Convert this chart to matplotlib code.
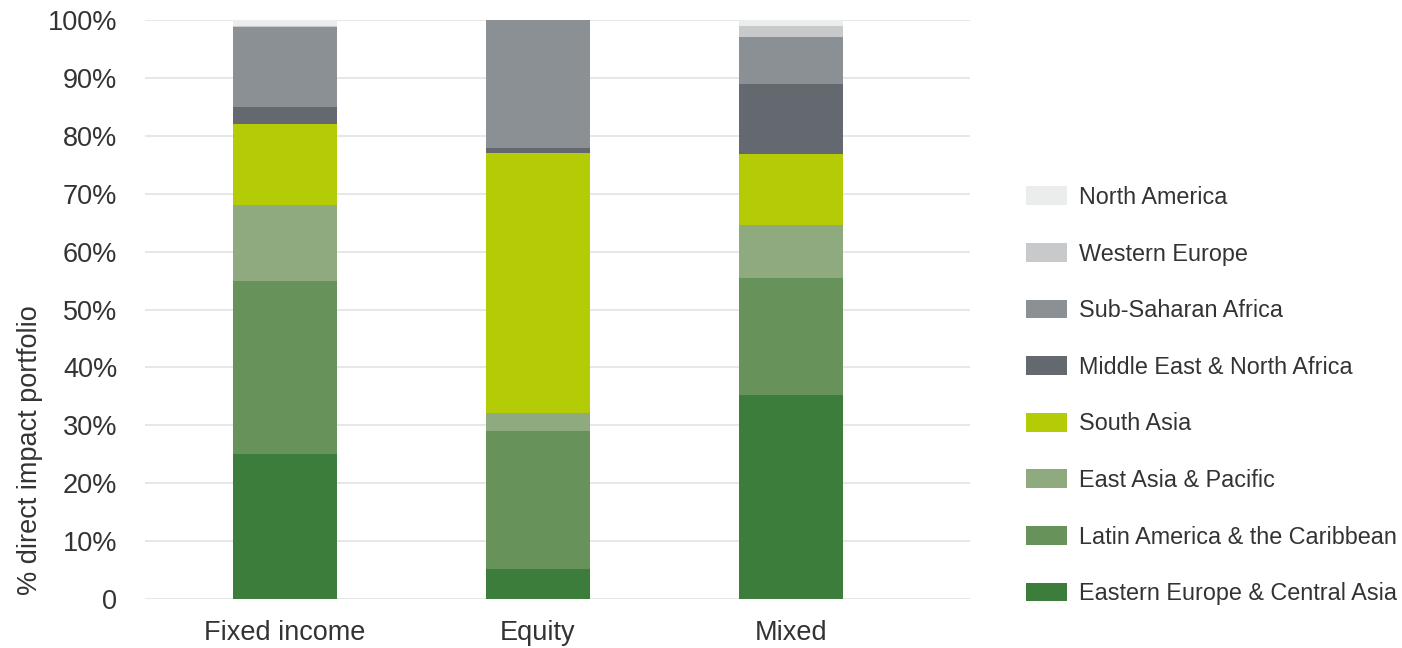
import matplotlib.pyplot as plt
import numpy as np

plt.rcParams['font.family'] = ['Liberation Sans', 'DejaVu Sans']

# asset classes and regional shares (% of direct impact portfolio)
categories = ["Fixed income", "Equity", "Mixed"]
regions = ["Eastern Europe & Central Asia", "Latin America & the Caribbean",
           "East Asia & Pacific", "South Asia", "Middle East & North Africa",
           "Sub-Saharan Africa", "Western Europe", "North America"]
eeca = [25.0, 5.2, 35.2]
lac = [30.0, 23.8, 20.2]
eap = [13.0, 3.1, 9.2]
south_asia = [14.0, 44.9, 12.3]
mena = [3.0, 0.9, 12.1]
ssa = [13.8, 22.1, 8.0]
w_europe = [0.2, 0.0, 2.0]
n_america = [1.0, 0.0, 1.0]
series = [eeca, lac, eap, south_asia, mena, ssa, w_europe, n_america]

colors = ["#3d7d3c", "#67935a", "#90aa7f", "#b3cc05",
          "#646970", "#8a9094", "#c8c9cb", "#ebecec"]

fig = plt.figure(figsize=(14.02, 6.48), dpi=100)
ax = fig.add_axes([145/1402, 49/648, 825/1402, 579/648])

x = np.arange(len(categories))
bottom = np.zeros(len(categories))
handles = []
for name, vals, c in zip(regions, series, colors):
    b = ax.bar(x, vals, width=0.41, bottom=bottom, color=c, label=name,
               linewidth=0, zorder=3)
    handles.append(b)
    bottom += np.array(vals)

ax.set_xlim(-0.553, 2.707)
ax.set_ylim(0, 100)
ax.set_yticks(np.arange(0, 101, 10))
ax.set_yticklabels(["0"] + [f"{v}%" for v in range(10, 101, 10)])
ax.set_xticks(x)
ax.set_xticklabels(categories)
ax.tick_params(axis='both', length=0, labelsize=19.5, colors="#333333")
ax.tick_params(axis='y', pad=20)
ax.tick_params(axis='x', pad=15)
ax.grid(axis='y', color="#e3e3e3", linewidth=1.2, zorder=0)
for s in ax.spines.values():
    s.set_visible(False)
ax.set_ylabel("% direct impact portfolio", fontsize=19.5, color="#333333")
ax.yaxis.set_label_coords(-0.124, 0.257)

fig.legend(handles[::-1], regions[::-1], loc='center left',
           bbox_to_anchor=(1026/1402, 1 - 395.5/648), frameon=False,
           fontsize=16.8, handlelength=1.76, handleheight=0.86,
           handletextpad=0.52, labelspacing=1.44, borderpad=0,
           borderaxespad=0, labelcolor="#333333")

fig.savefig("out.png", dpi=100)
